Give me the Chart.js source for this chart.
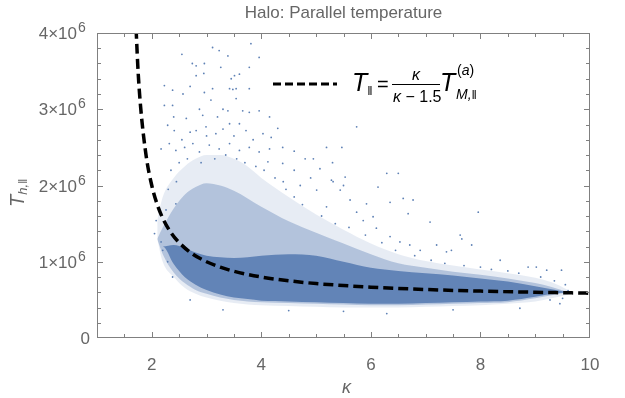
<!DOCTYPE html>
<html>
<head>
<meta charset="utf-8">
<script src="https://cdn.jsdelivr.net/npm/chart.js@4/dist/chart.umd.min.js"></script>
<style>
  html, body { margin: 0; padding: 0; background: #fff; }
  #wrap { width: 625px; height: 398px; }
</style>
</head>
<body>
<div id="wrap"><canvas id="haloChart"></canvas></div>
<script>
// dashed model curve, T in units of 1e6 K
const curveKappa = [1.69, 1.75, 1.8, 1.9, 2.0, 2.1, 2.2, 2.35, 2.5, 2.75, 3.0, 3.25, 3.5, 4.0, 4.5, 5.0, 5.5, 6.0, 7.0, 8.0, 9.0, 10.0];
const curveTemp = [4.45, 3.5, 3.0, 2.375, 2.0, 1.75, 1.571, 1.382, 1.25, 1.1, 1.0, 0.929, 0.875, 0.8, 0.75, 0.714, 0.688, 0.667, 0.636, 0.615, 0.6, 0.588];

// envelopes of the point cloud (outer sparse halo, inner speckle, dense core)
const bandKappa = [2.1, 2.2, 2.4, 2.6, 2.8, 3.0, 3.25, 3.5, 3.75, 4.0, 4.5, 5.0, 5.5, 6.0, 6.5, 7.0, 7.5, 8.0, 8.5, 9.0, 9.3, 9.6];
const outerHi = [1.55, 1.85, 2.1, 2.25, 2.35, 2.4, 2.4, 2.35, 2.25, 2.1, 1.85, 1.62, 1.42, 1.24, 1.1, 1.01, 0.95, 0.9, 0.85, 0.79, 0.73, 0.63];
const outerLo = [1.3, 1.0, 0.8, 0.66, 0.58, 0.53, 0.49, 0.46, 0.44, 0.43, 0.42, 0.41, 0.4, 0.4, 0.4, 0.41, 0.42, 0.43, 0.45, 0.48, 0.52, 0.57];
const innerHi = [1.3, 1.45, 1.7, 1.88, 1.98, 2.03, 2.0, 1.93, 1.83, 1.72, 1.53, 1.38, 1.24, 1.1, 0.98, 0.92, 0.87, 0.83, 0.78, 0.72, 0.67, 0.6];
const innerLo = [1.3, 1.1, 0.86, 0.72, 0.63, 0.58, 0.53, 0.5, 0.48, 0.47, 0.46, 0.45, 0.44, 0.43, 0.43, 0.44, 0.45, 0.46, 0.47, 0.52, 0.56, 0.6];
const coreHi = [1.2, 1.2, 1.22, 1.18, 1.12, 1.08, 1.06, 1.05, 1.06, 1.08, 1.1, 1.08, 1.0, 0.92, 0.88, 0.85, 0.82, 0.78, 0.74, 0.68, 0.64, 0.6];
const coreLo = [1.2, 1.2, 0.97, 0.8, 0.7, 0.63, 0.57, 0.53, 0.51, 0.49, 0.48, 0.47, 0.46, 0.45, 0.45, 0.46, 0.47, 0.48, 0.49, 0.54, 0.58, 0.6];

// scattered outliers
const sparseKappa = [3.11, 3.81, 2.55, 3.23, 3.39, 3.96, 2.74, 2.81, 2.96, 3.26, 3.78, 2.81, 2.95, 3.51, 3.6, 2.23, 2.96, 3.42, 3.48, 3.54, 3.11, 3.78, 2.38, 2.57, 3.08, 3.54, 2.23, 2.38, 2.87, 3.3, 3.39, 3.66, 3.78, 3.96, 4.15, 2.63, 2.93, 2.29, 2.41, 2.81, 2.99, 3.17, 3.3, 3.42, 3.6, 3.72, 4.03, 4.18, 4.39, 2.17, 2.32, 2.44, 2.6, 2.75, 2.87, 3.05, 3.23, 3.42, 3.6, 3.78, 3.96, 4.15, 4.39, 4.12,
  5.74, 5.19, 5.47, 5.07, 5.31, 5.5, 6.29, 6.5, 6.13, 6.59, 6.77, 5.92, 6.35, 6.68, 7.08, 7.96, 7.63, 7.84, 7.66, 7.38, 7.47, 8.36, 8.87, 9.02, 9.21, 9.48, 9.45, 9.27, 8.72,
  4.71, 5.01, 5.28, 5.53, 5.44, 5.62, 5.19, 5.74, 5.86, 6.04, 6.1, 6.35, 6.53, 6.71, 6.9, 7.2, 4.6, 4.8, 4.4, 4.9,
  2.08, 2.05, 2.17, 2.2, 2.29, 2.38, 2.44, 2.26,
  3.3, 6.29, 4.5, 5.5, 7.5, 2.7,
  2.35, 2.5, 2.65, 2.9, 3.15, 3.35, 3.55, 3.7, 3.9, 4.05, 4.25, 2.45, 2.3, 4.45, 4.6, 4.75, 5.1, 5.35, 5.6, 5.9, 6.2, 6.45, 6.8, 7.1, 7.35, 7.7, 8.0, 8.2, 8.5, 8.7, 9.1, 9.35, 9.55, 9.6, 9.5,
  2.55, 2.7, 3.0, 3.5, 3.85, 2.4, 3.2, 3.45, 2.7, 4.3, 4.6, 4.95, 5.3];
const sparseTemp = [3.81, 3.86, 3.72, 3.77, 3.7, 3.68, 3.6, 3.57, 3.6, 3.55, 3.55, 3.44, 3.47, 3.44, 3.46, 3.31, 3.22, 3.27, 3.26, 3.27, 3.27, 3.27, 3.25, 3.2, 3.12, 3.14, 3.05, 3.05, 3.0, 3.0, 2.98, 2.98, 2.96, 2.98, 2.9, 2.88, 2.92, 2.79, 2.72, 2.72, 2.77, 2.68, 2.74, 2.81, 2.81, 2.72, 2.68, 2.63, 2.5, 2.48, 2.55, 2.46, 2.5, 2.55, 2.44, 2.53, 2.48, 2.55, 2.46, 2.5, 2.44, 2.48, 2.29, 2.31,
  2.77, 2.5, 2.5, 2.22, 2.05, 2.0, 2.16, 2.16, 1.98, 1.83, 1.81, 1.76, 1.78, 1.63, 1.52, 1.65, 1.35, 1.22, 1.3, 1.13, 1.15, 1.02, 0.93, 0.93, 0.89, 0.89, 0.45, 0.5, 0.39,
  2.0, 1.94, 2.07, 2.11, 1.94, 1.81, 1.72, 1.65, 1.54, 1.59, 1.44, 1.33, 1.26, 1.22, 1.15, 1.22, 2.2, 2.35, 2.05, 2.1,
  1.54, 1.37, 1.26, 1.15, 1.0, 0.8, 1.76, 1.68,
  0.37, 0.32, 0.36, 0.35, 0.37, 0.5,
  2.2, 2.3, 2.35, 2.3, 2.35, 2.4, 2.35, 2.3, 2.25, 2.2, 2.1, 2.05, 1.95, 1.95, 1.85, 1.75, 1.6, 1.5, 1.45, 1.35, 1.25, 1.15, 1.08, 1.02, 0.98, 0.95, 0.93, 0.9, 0.88, 0.85, 0.8, 0.75, 0.7, 0.62, 0.52,
  2.6, 2.7, 2.65, 2.65, 2.6, 2.9, 2.9, 3.4, 3.3, 2.75, 2.45, 2.35, 2.3];

const yTicks = [0, 1, 2, 3, 4];
const xTickLabels = [2, 4, 6, 8, 10];

const blue = 'rgb(94, 129, 181)';
const font = '"Liberation Sans", Arial, sans-serif';
const toPts = (xs, ys) => xs.map((k, i) => ({ x: k, y: ys[i] * 1e6 }));

function band(lo, hi, color) {
    return [
        { data: toPts(bandKappa, lo), borderWidth: 0, pointRadius: 0, fill: false, cubicInterpolationMode: 'monotone' },
        { data: toPts(bandKappa, hi), borderWidth: 0, pointRadius: 0, fill: '-1', backgroundColor: color, cubicInterpolationMode: 'monotone' }
    ];
}

// draw a row of text pieces [text, font, dy] one after another
function run(ctx, x, y, parts) {
    parts.forEach(([t, f, dy]) => {
        ctx.font = f;
        ctx.fillText(t, x, y + (dy || 0));
        x += ctx.measureText(t).width;
    });
    return x;
}

// frame with inward ticks, y labels, title, axis titles and the legend formula
const decorations = {
    id: 'decorations',
    afterDraw(chart) {
        const { ctx, chartArea: a, scales: { x, y } } = chart;
        ctx.save();
        ctx.strokeStyle = '#808080';
        ctx.lineWidth = 1;
        ctx.strokeRect(Math.round(a.left) + 0.5, Math.round(a.top) + 0.5, Math.round(a.width) - 1, Math.round(a.height) - 1);
        ctx.beginPath();
        for (let i = 3; i <= 19; i++) {
            const px = Math.round(x.getPixelForValue(i / 2)) + 0.5;
            const len = i % 4 === 0 ? 6 : 4;
            ctx.moveTo(px, a.bottom); ctx.lineTo(px, a.bottom - len);
            ctx.moveTo(px, a.top); ctx.lineTo(px, a.top + len);
        }
        for (let j = 1; j < 20; j++) {
            const py = Math.round(y.getPixelForValue(j * 0.2e6)) + 0.5;
            const len = j % 5 === 0 ? 6 : 4;
            ctx.moveTo(a.left, py); ctx.lineTo(a.left + len, py);
            ctx.moveTo(a.right, py); ctx.lineTo(a.right - len, py);
        }
        ctx.stroke();

        // y tick labels with a real superscript
        ctx.fillStyle = '#666';
        ctx.textBaseline = 'alphabetic';
        yTicks.forEach(n => {
            const py = y.getPixelForValue(n * 1e6);
            if (n === 0) {
                ctx.textAlign = 'right';
                ctx.font = '17px ' + font;
                ctx.fillText('0', a.left - 7, py + 6);
                return;
            }
            ctx.textAlign = 'right';
            ctx.font = '17px ' + font;
            ctx.fillText(n + '×10', a.left - 20, py + 6);
            ctx.textAlign = 'left';
            ctx.font = '14px ' + font;
            ctx.fillText('6', a.left - 19, py - 1);
        });

        // title
        ctx.textAlign = 'center';
        ctx.textBaseline = 'middle';
        ctx.font = '17px ' + font;
        ctx.fillText('Halo: Parallel temperature', (a.left + a.right) / 2, 13);

        // x title
        ctx.font = 'italic 18px ' + font;
        ctx.fillText('κ', (a.left + a.right) / 2 + 3, 388);

        // y title
        ctx.save();
        ctx.translate(18, 190);
        ctx.rotate(-Math.PI / 2);
        ctx.textAlign = 'left';
        ctx.textBaseline = 'alphabetic';
        run(ctx, -17, 6, [['T', 'italic 20px ' + font], ['h,‖', 'italic 13px ' + font, 3]]);
        ctx.restore();

        // legend
        ctx.strokeStyle = '#000';
        ctx.lineWidth = 3;
        ctx.setLineDash([8, 4]);
        ctx.beginPath();
        ctx.moveTo(273, 84); ctx.lineTo(337, 84);
        ctx.stroke();
        ctx.setLineDash([]);

        ctx.fillStyle = '#000';
        ctx.textAlign = 'left';
        ctx.textBaseline = 'alphabetic';
        run(ctx, 352, 91, [['T', 'italic 25px ' + font], ['‖', '13px ' + font, 4]]);
        run(ctx, 377, 91, [['=', '20px ' + font]]);
        ctx.lineWidth = 1.2;
        ctx.beginPath();
        ctx.moveTo(392, 84.5); ctx.lineTo(440, 84.5);
        ctx.stroke();
        ctx.textAlign = 'center';
        ctx.font = 'italic 16px ' + font;
        ctx.fillText('κ', 416, 80);
        ctx.textAlign = 'left';
        run(ctx, 393, 102, [['κ', 'italic 16px ' + font], [' − 1.5', '16px ' + font]]);
        run(ctx, 440, 91, [['T', 'italic 25px ' + font]]);
        run(ctx, 457, 75, [['(', '14px ' + font], ['a', 'italic 14px ' + font], [')', '14px ' + font]]);
        run(ctx, 456, 99, [['M,', 'italic 14px ' + font], ['‖', '13px ' + font]]);
        ctx.restore();
    }
};

const ctx = document.getElementById('haloChart').getContext('2d');
new Chart(ctx, {
    type: 'line',
    data: {
        datasets: [
            {
                data: toPts(curveKappa, curveTemp),
                borderColor: '#000',
                borderWidth: 3.5,
                borderDash: [10, 5],
                pointRadius: 0,
                fill: false,
                cubicInterpolationMode: 'monotone'
            },
            {
                data: toPts(sparseKappa, sparseTemp),
                showLine: false,
                pointRadius: 0.9,
                pointBorderWidth: 0,
                pointBackgroundColor: blue
            },
            ...band(coreLo, coreHi, 'rgba(94, 129, 181, 0.95)'),
            ...band(innerLo, innerHi, 'rgba(94, 129, 181, 0.38)'),
            ...band(outerLo, outerHi, 'rgba(94, 129, 181, 0.15)')
        ]
    },
    options: {
        responsive: true,
        maintainAspectRatio: false,
        animation: false,
        layout: {
            padding: { left: 10, right: 35, top: 33, bottom: 0 }
        },
        plugins: {
            legend: { display: false },
            tooltip: { enabled: false }
        },
        scales: {
            x: {
                type: 'linear',
                min: 1,
                max: 10,
                grid: { display: false },
                border: { display: false },
                afterFit: s => { s.height = 60; },
                ticks: {
                    stepSize: 1,
                    autoSkip: false,
                    maxRotation: 0,
                    padding: 9,
                    color: '#666',
                    font: { family: font, size: 17 },
                    callback: v => xTickLabels.includes(v) ? String(v) : ''
                }
            },
            y: {
                min: 0,
                max: 4e6,
                grid: { display: false },
                border: { display: false },
                afterFit: s => { s.width = 87; },
                ticks: {
                    stepSize: 1e6,
                    display: false
                }
            }
        }
    },
    plugins: [decorations]
});
</script>
</body>
</html>
